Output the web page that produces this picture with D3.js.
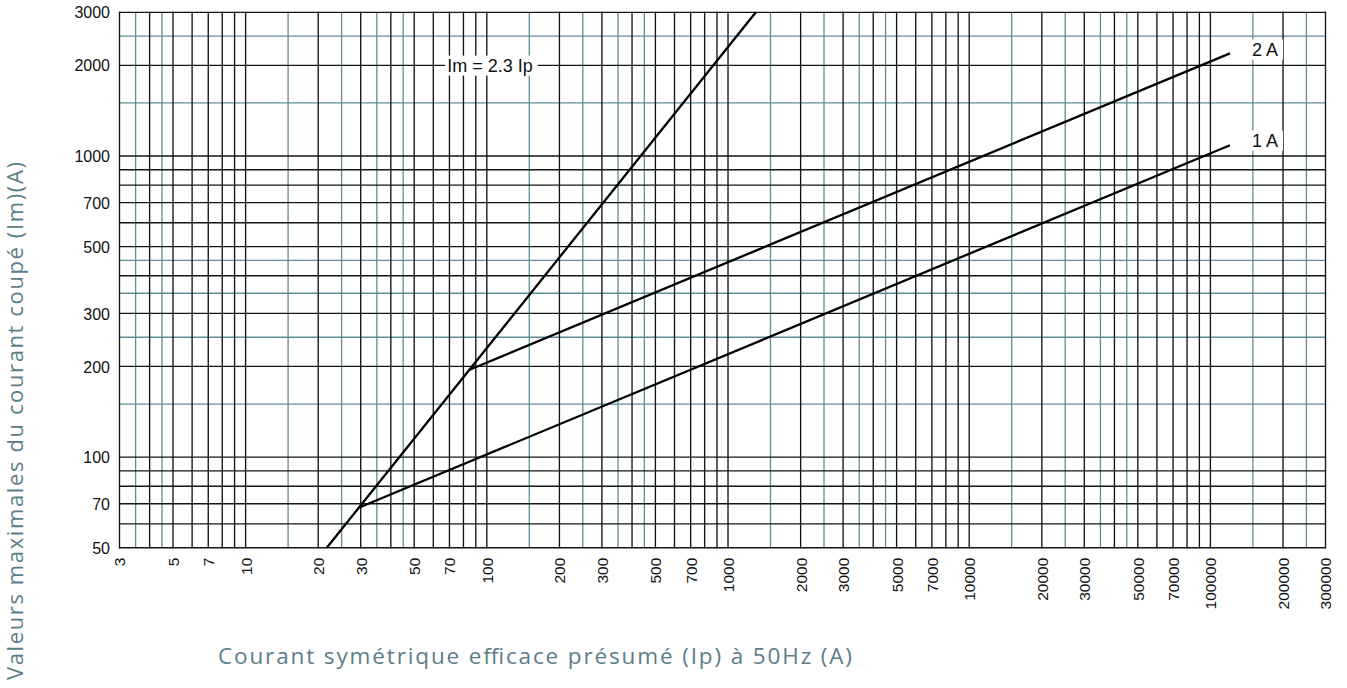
<!DOCTYPE html>
<html>
<head>
<meta charset="utf-8">
<script src="https://cdn.jsdelivr.net/npm/d3@7/dist/d3.min.js"></script>
<style>
  html, body { margin: 0; padding: 0; background: #ffffff; }
  svg { display: block; }
</style>
</head>
<body>
<svg id="chart" width="1347" height="688"></svg>
<script>
// ---- data ----
const xDomain = [3, 300000];
const yDomain = [50, 3000];
const xTickValues = [3, 5, 7, 10, 20, 30, 50, 70, 100, 200, 300, 500, 700, 1000, 2000, 3000, 5000, 7000, 10000, 20000, 30000, 50000, 70000, 100000, 200000, 300000];
const yTickValues = [50, 70, 100, 200, 300, 500, 700, 1000, 2000, 3000];
const majorMultipliers = [1, 2, 3, 4, 5, 6, 7, 8, 9];
const minorMultipliers = [1.5, 2.5, 3.5, 4.5];

// Ip (A) -> Im (A)
const lineIm23 = [[21.7, 50], [1304, 3000]];
const line1A = [[29.6, 68], [120500, 1085]];
const line2A = [[84.8, 195], [120500, 2192]];

const seriesNames = ["Im = 2.3 Ip", "1 A", "2 A"];

const xTitle = "Courant symétrique efficace présumé (Ip) à 50Hz (A)";
const yTitle = "Valeurs maximales du courant coupé (Im)(A)";

// ---- layout ----
const plot = { left: 119.5, right: 1325.5, top: 12.3, bottom: 547.7 };
const svg = d3.select("#chart");

const x = d3.scaleLog().domain(xDomain).range([plot.left, plot.right]);
const y = d3.scaleLog().domain(yDomain).range([plot.bottom, plot.top]);

function gridValues(domain, mults) {
  const out = [];
  const lo = Math.floor(Math.log10(domain[0]));
  const hi = Math.ceil(Math.log10(domain[1]));
  for (let e = lo; e <= hi; e++) {
    for (const m of mults) {
      const v = +(m * Math.pow(10, e)).toPrecision(6);
      if (v >= domain[0] * 0.9999 && v <= domain[1] * 1.0001) out.push(v);
    }
  }
  return out;
}

const teal = "#5f8c96";
const gridG = svg.append("g");

// minor (teal) grid
gridG.selectAll("line.vminor").data(gridValues(xDomain, minorMultipliers)).join("line")
  .attr("class", "vminor")
  .attr("x1", d => x(d)).attr("x2", d => x(d))
  .attr("y1", plot.top).attr("y2", plot.bottom)
  .attr("stroke", teal).attr("stroke-width", 1.3);
gridG.selectAll("line.hminor").data(gridValues(yDomain, minorMultipliers)).join("line")
  .attr("class", "hminor")
  .attr("y1", d => y(d)).attr("y2", d => y(d))
  .attr("x1", plot.left).attr("x2", plot.right)
  .attr("stroke", teal).attr("stroke-width", 1.3);

// major (black) grid
gridG.selectAll("line.vmajor").data(gridValues(xDomain, majorMultipliers)).join("line")
  .attr("class", "vmajor")
  .attr("x1", d => x(d)).attr("x2", d => x(d))
  .attr("y1", plot.top - 0.6).attr("y2", plot.bottom + 0.6)
  .attr("stroke", "#141414").attr("stroke-width", 1.35);
gridG.selectAll("line.hmajor").data(gridValues(yDomain, majorMultipliers)).join("line")
  .attr("class", "hmajor")
  .attr("y1", d => y(d)).attr("y2", d => y(d))
  .attr("x1", plot.left - 0.6).attr("x2", plot.right + 0.6)
  .attr("stroke", "#141414").attr("stroke-width", 1.35);

// ---- axes (labels only) ----
const tickFont = "'Liberation Sans', Arial, sans-serif";
const xAxis = d3.axisBottom(x).tickValues(xTickValues).tickSize(0).tickFormat(d => String(d));
const gx = svg.append("g").attr("transform", `translate(0,${plot.bottom})`).call(xAxis);
gx.select(".domain").remove();
gx.selectAll("text")
  .attr("transform", "rotate(-90)")
  .attr("x", -10).attr("y", 0).attr("dy", "0.35em")
  .style("text-anchor", "end")
  .style("font-family", tickFont).style("font-size", "15.5px").style("fill", "#111");

const yAxis = d3.axisLeft(y).tickValues(yTickValues).tickSize(0).tickPadding(9.5).tickFormat(d => String(d));
const gy = svg.append("g").attr("transform", `translate(${plot.left},0)`).call(yAxis);
gy.select(".domain").remove();
gy.selectAll("text")
  .attr("dy", "0.35em")
  .style("font-family", tickFont).style("font-size", "16px").style("fill", "#111");

// ---- curves ----
const lineGen = d3.line().x(d => x(d[0])).y(d => y(d[1]));
const curves = [lineIm23, line1A, line2A];
svg.append("g").selectAll("path").data(curves).join("path")
  .attr("d", lineGen)
  .attr("fill", "none").attr("stroke", "#000").attr("stroke-width", 2.3)
  .attr("stroke-linecap", "butt");

// ---- labels with white background ----
const labels = [
  { text: seriesNames[0], px: x(68.5), py: y(2000) },
  { text: seriesNames[1], px: x(line1A[1][0]) + 22, py: y(line1A[1][1]) - 5 },
  { text: seriesNames[2], px: x(line2A[1][0]) + 22, py: y(line2A[1][1]) - 4 }
];
const labG = svg.append("g");
labels.forEach(l => {
  const g = labG.append("g");
  const rect = g.append("rect").attr("fill", "#fff");
  const t = g.append("text")
    .attr("x", l.px).attr("y", l.py).attr("dy", "0.35em")
    .style("font-family", tickFont).style("font-size", "18px").style("fill", "#111")
    .text(l.text);
  const bb = t.node().getBBox();
  rect.attr("x", bb.x - 2).attr("y", bb.y).attr("width", bb.width + 7).attr("height", bb.height);
});

// ---- titles ----
const titleFont = "'Open Sans', 'Noto Sans', sans-serif";
const titleColor = "#5a7e89";
svg.append("text")
  .attr("x", 218).attr("y", 664)
  .attr("textLength", 634).attr("lengthAdjust", "spacing")
  .style("font-family", titleFont).style("font-size", "22.5px").style("fill", titleColor)
  .text(xTitle);
svg.append("text")
  .attr("transform", "translate(23,680) rotate(-90)")
  .attr("textLength", 518).attr("lengthAdjust", "spacing")
  .style("font-family", titleFont).style("font-size", "22px").style("fill", titleColor)
  .text(yTitle);
</script>
</body>
</html>
